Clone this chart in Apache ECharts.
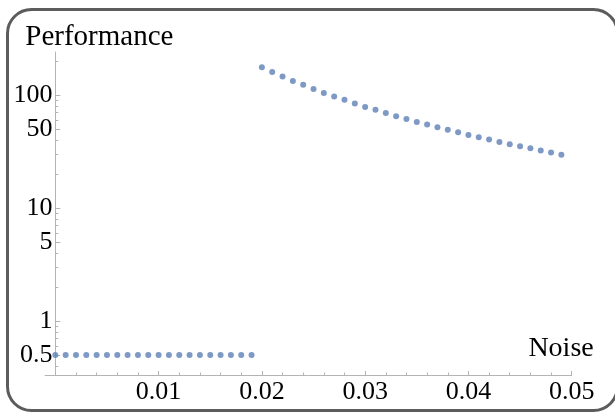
<!DOCTYPE html>
<html>
<head>
<meta charset="utf-8">
<script src="https://cdn.jsdelivr.net/npm/echarts@6/dist/echarts.min.js"></script>
<style>
  html, body { margin: 0; padding: 0; background: #fff; }
  #chart { width: 615px; height: 412px; }
</style>
</head>
<body>
<div id="chart"></div>
<script>
// Performance plateau below the threshold noise level
const lowNoise = [0.000, 0.001, 0.002, 0.003, 0.004, 0.005, 0.006, 0.007, 0.008, 0.009,
                  0.010, 0.011, 0.012, 0.013, 0.014, 0.015, 0.016, 0.017, 0.018, 0.019];
const lowPerformance = [0.5, 0.5, 0.5, 0.5, 0.5, 0.5, 0.5, 0.5, 0.5, 0.5,
                        0.5, 0.5, 0.5, 0.5, 0.5, 0.5, 0.5, 0.5, 0.5, 0.5];

// Decaying performance above the threshold
const highNoise = [0.020, 0.021, 0.022, 0.023, 0.024, 0.025, 0.026, 0.027, 0.028, 0.029,
                   0.030, 0.031, 0.032, 0.033, 0.034, 0.035, 0.036, 0.037, 0.038, 0.039,
                   0.040, 0.041, 0.042, 0.043, 0.044, 0.045, 0.046, 0.047, 0.048, 0.049];
const highPerformance = [176, 160, 146, 133, 123, 113, 104, 97, 90.5, 84,
                         78.4, 73.8, 69.4, 64.8, 61.4, 57.7, 54.7, 51.8, 49.1, 46.8,
                         44.3, 42.2, 40.3, 38.4, 36.6, 35.1, 33.7, 32.2, 30.9, 29.6];

// Axis ticks and labels
const xLabelValues = [0.01, 0.02, 0.03, 0.04, 0.05];
const xMajorTicks = [0, 0.01, 0.02, 0.03, 0.04, 0.05];
const xMinorTicks = [0.002, 0.004, 0.006, 0.008, 0.012, 0.014, 0.016, 0.018,
                     0.022, 0.024, 0.026, 0.028, 0.032, 0.034, 0.036, 0.038,
                     0.042, 0.044, 0.046, 0.048];
const yLabelValues = [0.5, 1, 5, 10, 50, 100];
const yMinorTicks = [0.4, 0.6, 0.7, 0.8, 0.9, 2, 3, 4, 6, 7, 8, 9,
                     20, 30, 40, 60, 70, 80, 90, 200];

const serif = '"Liberation Serif", "Times New Roman", serif';
const axisGrey = '#b4b4b4';
const dotColor = '#5e81b5';

const zip = (xs, ys) => xs.map((x, i) => [x, ys[i]]);

const chart = echarts.init(document.getElementById('chart'), null, { renderer: 'canvas' });

chart.setOption({
  animation: false,
  backgroundColor: '#fff',
  grid: { left: 45, right: 43.3, top: 52, bottom: 37, containLabel: false },
  graphic: [{
    type: 'rect',
    z: -10,
    shape: { x: 7.5, y: 9.5, width: 610, height: 401, r: 24 },
    style: { fill: 'none', stroke: '#5c5c5c', lineWidth: 3 }
  }],
  xAxis: [{
    type: 'value',
    min: -0.001,
    max: 0.05,
    name: 'Noise',
    nameLocation: 'end',
    nameGap: 22,
    nameTextStyle: { fontFamily: serif, fontSize: 28, color: '#000',
                     align: 'right', verticalAlign: 'bottom', padding: [0, 0, 12, 0] },
    axisLine: { show: true, lineStyle: { color: axisGrey, width: 1 } },
    axisTick: { show: true, inside: true, length: 4, customValues: xMajorTicks,
                lineStyle: { color: axisGrey } },
    axisLabel: { show: true, customValues: xLabelValues, margin: 4,
                 fontFamily: serif, fontSize: 26, color: '#000',
                 formatter: v => v.toFixed(2) },
    splitLine: { show: false }
  }, {
    type: 'value',
    min: -0.001,
    max: 0.05,
    position: 'top',
    offset: -323,
    axisLine: { show: false },
    axisTick: { show: true, inside: false, length: 2.5, customValues: xMinorTicks,
                lineStyle: { color: axisGrey } },
    axisLabel: { show: false },
    splitLine: { show: false }
  }],
  yAxis: [{
    type: 'log',
    logBase: 10,
    min: 0.332,
    max: 240,
    name: 'Performance',
    nameLocation: 'end',
    nameGap: 0,
    nameTextStyle: { fontFamily: serif, fontSize: 29, color: '#000',
                     align: 'center', padding: [0, 0, 0, 88] },
    axisLine: { show: true, onZero: true, onZeroAxisIndex: 0,
                lineStyle: { color: axisGrey, width: 1 } },
    axisTick: { show: true, inside: true, length: 5, customValues: yLabelValues,
                lineStyle: { color: axisGrey } },
    axisLabel: { show: true, customValues: yLabelValues, margin: -7.5,
                 fontFamily: serif, fontSize: 26, color: '#000',
                 formatter: v => String(v) },
    splitLine: { show: false }
  }, {
    type: 'log',
    logBase: 10,
    min: 0.332,
    max: 240,
    position: 'right',
    axisLine: { show: false, onZero: true, onZeroAxisIndex: 0 },
    axisTick: { show: true, inside: false, length: 3, customValues: yMinorTicks,
                lineStyle: { color: axisGrey } },
    axisLabel: { show: false },
    splitLine: { show: false }
  }],
  series: [{
    type: 'scatter',
    name: 'below threshold',
    xAxisIndex: 0,
    yAxisIndex: 0,
    symbol: 'circle',
    symbolSize: 6,
    itemStyle: { color: dotColor },
    data: zip(lowNoise, lowPerformance)
  }, {
    type: 'scatter',
    name: 'above threshold',
    xAxisIndex: 0,
    yAxisIndex: 0,
    symbol: 'circle',
    symbolSize: 6,
    itemStyle: { color: dotColor },
    data: zip(highNoise, highPerformance)
  }]
});
</script>
</body>
</html>
